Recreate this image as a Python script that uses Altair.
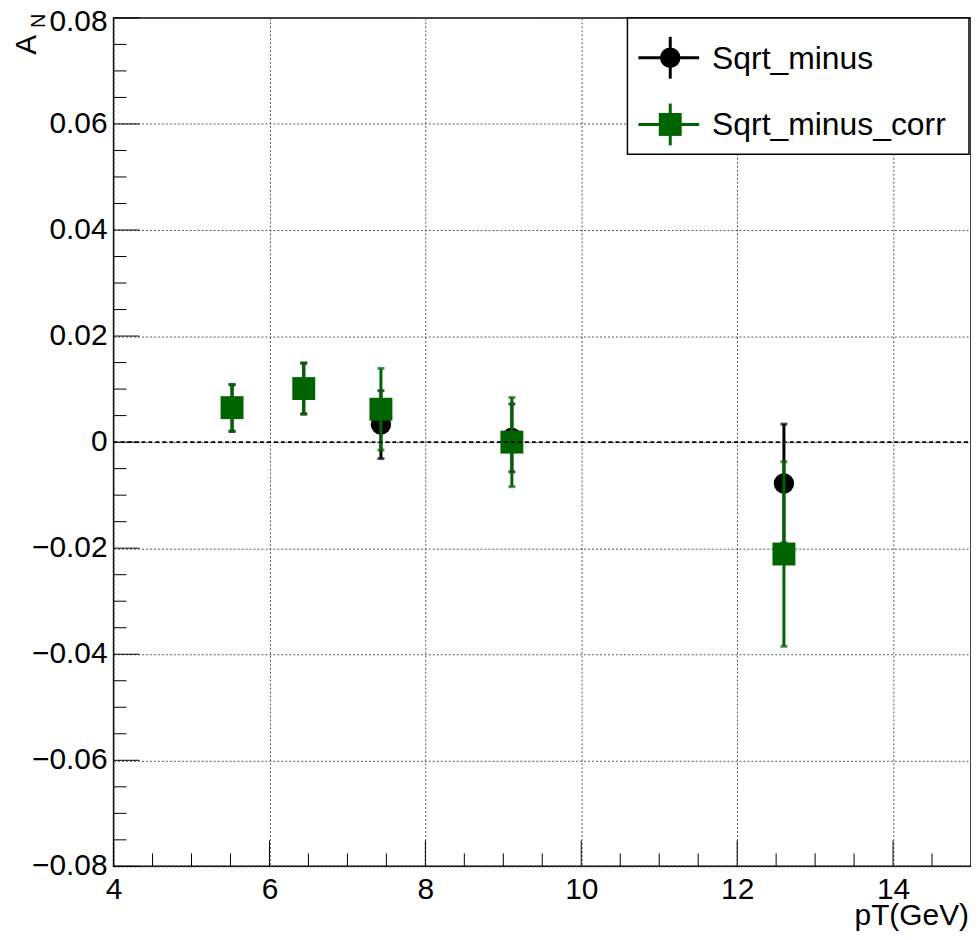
import altair as alt
import pandas as pd

# ---- data ----
pt = [5.52, 6.44, 7.43, 9.11, 12.6]
an_raw = [0.0064, 0.0101, 0.0033, 0.0008, -0.0078]
err_raw = [0.0044, 0.0048, 0.0064, 0.0064, 0.0112]
an_corr = [0.0065, 0.0101, 0.0062, 0.0000, -0.0211]
err_corr = [0.0044, 0.0048, 0.0077, 0.0084, 0.0174]

x_major = [4, 6, 8, 10, 12, 14]
x_minor = [4.5, 5, 5.5, 6.5, 7, 7.5, 8.5, 9, 9.5, 10.5, 11, 11.5, 12.5, 13, 13.5, 14.5]
y_major = [-0.08, -0.06, -0.04, -0.02, 0.0, 0.02, 0.04, 0.06, 0.08]
y_minor = [-0.075, -0.07, -0.065, -0.055, -0.05, -0.045, -0.035, -0.03, -0.025,
           -0.015, -0.01, -0.005, 0.005, 0.01, 0.015, 0.025, 0.03, 0.035,
           0.045, 0.05, 0.055, 0.065, 0.07, 0.075]

series_names = ["Sqrt_minus", "Sqrt_minus_corr"]
BLACK = "#000000"
GREEN = "#006400"
FONT = "Liberation Sans"
FS = 30

W, H = 861, 852

raw_df = pd.DataFrame({"x": pt, "y": an_raw, "e": err_raw})
corr_df = pd.DataFrame({"x": pt, "y": an_corr, "e": err_corr})

xs = alt.Scale(domain=[4, 15], nice=False, zero=False)
ys = alt.Scale(domain=[-0.08, 0.08], nice=False, zero=False)
xaxis = alt.Axis(values=x_major, domain=False, ticks=False, grid=True, labelFontSize=FS,
                 labelFont=FONT, labelPadding=8, labelColor="black", title=None,
                 gridColor="#555555", gridDash=[2, 2], gridWidth=1, labelFlush=False)
yaxis = alt.Axis(values=y_major, domain=False, ticks=False, grid=True, labels=False,
                 title=None, gridColor="#555555", gridDash=[2, 2], gridWidth=1)


def X(f):
    return alt.X(f, type="quantitative", scale=xs, axis=xaxis, title=None)


def Y(f):
    return alt.Y(f, type="quantitative", scale=ys, axis=yaxis, title=None)


layers = []

# inward ticks
layers.append(alt.Chart(pd.DataFrame({"v": x_major})).mark_rule(color="black", strokeWidth=1)
              .encode(x=X("v"), y=alt.value(H), y2=alt.value(H - 26)))
layers.append(alt.Chart(pd.DataFrame({"v": x_minor})).mark_rule(color="black", strokeWidth=1)
              .encode(x=X("v"), y=alt.value(H), y2=alt.value(H - 13)))
layers.append(alt.Chart(pd.DataFrame({"v": y_major})).mark_rule(color="black", strokeWidth=1)
              .encode(y=Y("v"), x=alt.value(0), x2=alt.value(26)))
layers.append(alt.Chart(pd.DataFrame({"v": y_minor})).mark_rule(color="black", strokeWidth=1)
              .encode(y=Y("v"), x=alt.value(0), x2=alt.value(13)))

# y tick labels (top label nudged down as in the reference)
ylab = pd.DataFrame({"v": y_major})
ylab_base = (alt.Chart(ylab)
             .transform_calculate(t="format(datum.v, '.2~f')"))
layers.append(ylab_base.transform_filter("datum.v < 0.079")
              .mark_text(align="right", baseline="middle", font=FONT, fontSize=FS, color="black")
              .encode(y=Y("v"), x=alt.value(-6), text="t:N"))
layers.append(ylab_base.transform_filter("datum.v >= 0.079")
              .mark_text(align="right", baseline="middle", font=FONT, fontSize=FS, color="black", dy=4)
              .encode(y=Y("v"), x=alt.value(-6), text="t:N"))


def series(df, color, shape, size):
    base = alt.Chart(df).transform_calculate(lo="datum.y - datum.e", hi="datum.y + datum.e")
    bars = base.mark_rule(color=color, strokeWidth=3).encode(x=X("x"), y=Y("lo"), y2="hi:Q")
    cap_lo = base.mark_tick(color=color, orient="horizontal", size=7, thickness=3).encode(x=X("x"), y=Y("lo"))
    cap_hi = base.mark_tick(color=color, orient="horizontal", size=7, thickness=3).encode(x=X("x"), y=Y("hi"))
    pts = base.mark_point(shape=shape, filled=True, color=color, opacity=1, size=size).encode(x=X("x"), y=Y("y"))
    return [bars, cap_lo, cap_hi, pts]


layers += series(raw_df, BLACK, "circle", 420)
layers += series(corr_df, GREEN, "square", 530)

# zero line
layers.append(alt.Chart(pd.DataFrame({"z": [0.0]})).mark_rule(color="black", strokeWidth=2, strokeDash=[4, 3])
              .encode(y=Y("z"), x=alt.value(0), x2=alt.value(W)))

# legend
one = pd.DataFrame({"a": [0]})
LX0, LX1, LY0, LY1 = 516, 859, 0, 137
layers.append(alt.Chart(one).mark_rect(fill="white", stroke="black", strokeWidth=1.5)
              .encode(x=alt.value(LX0), x2=alt.value(LX1), y=alt.value(LY0), y2=alt.value(LY1)))
for i, (name, color, shape, size) in enumerate([(series_names[0], BLACK, "circle", 420),
                                                 (series_names[1], GREEN, "square", 530)]):
    cy = 40 + i * 67
    layers.append(alt.Chart(one).mark_rule(color=color, strokeWidth=3)
                  .encode(x=alt.value(527), x2=alt.value(588), y=alt.value(cy)))
    layers.append(alt.Chart(one).mark_rule(color=color, strokeWidth=3)
                  .encode(x=alt.value(559), y=alt.value(cy - 21), y2=alt.value(cy + 21)))
    layers.append(alt.Chart(one).mark_point(shape=shape, filled=True, color=color, opacity=1, size=size)
                  .encode(x=alt.value(559), y=alt.value(cy)))
    layers.append(alt.Chart(one).mark_text(align="left", baseline="middle", font=FONT, fontSize=32, color="black")
                  .encode(x=alt.value(601), y=alt.value(cy + 1), text=alt.value(name)))

# axis titles
layers.append(alt.Chart(one).mark_text(align="right", baseline="alphabetic", font=FONT, fontSize=FS, color="black")
              .encode(x=alt.value(W - 2), y=alt.value(911), text=alt.value("pT(GeV)")))
layers.append(alt.Chart(one).mark_text(align="center", baseline="middle", angle=270, font=FONT, fontSize=FS, color="black")
              .encode(x=alt.value(-87), y=alt.value(27), text=alt.value("A")))
layers.append(alt.Chart(one).mark_text(align="center", baseline="middle", angle=270, font=FONT, fontSize=20, color="black")
              .encode(x=alt.value(-75), y=alt.value(3), text=alt.value("N")))

chart = (alt.layer(*layers)
         .properties(width=W, height=H, autosize=alt.AutoSizeParams(type="none"),
                     padding={"left": 106, "top": 8, "right": 0, "bottom": 68})
         .configure(font=FONT)
         .configure_view(stroke="black", strokeWidth=1.5))

chart.save("out.html", embed_options={"renderer": "svg", "actions": False})
